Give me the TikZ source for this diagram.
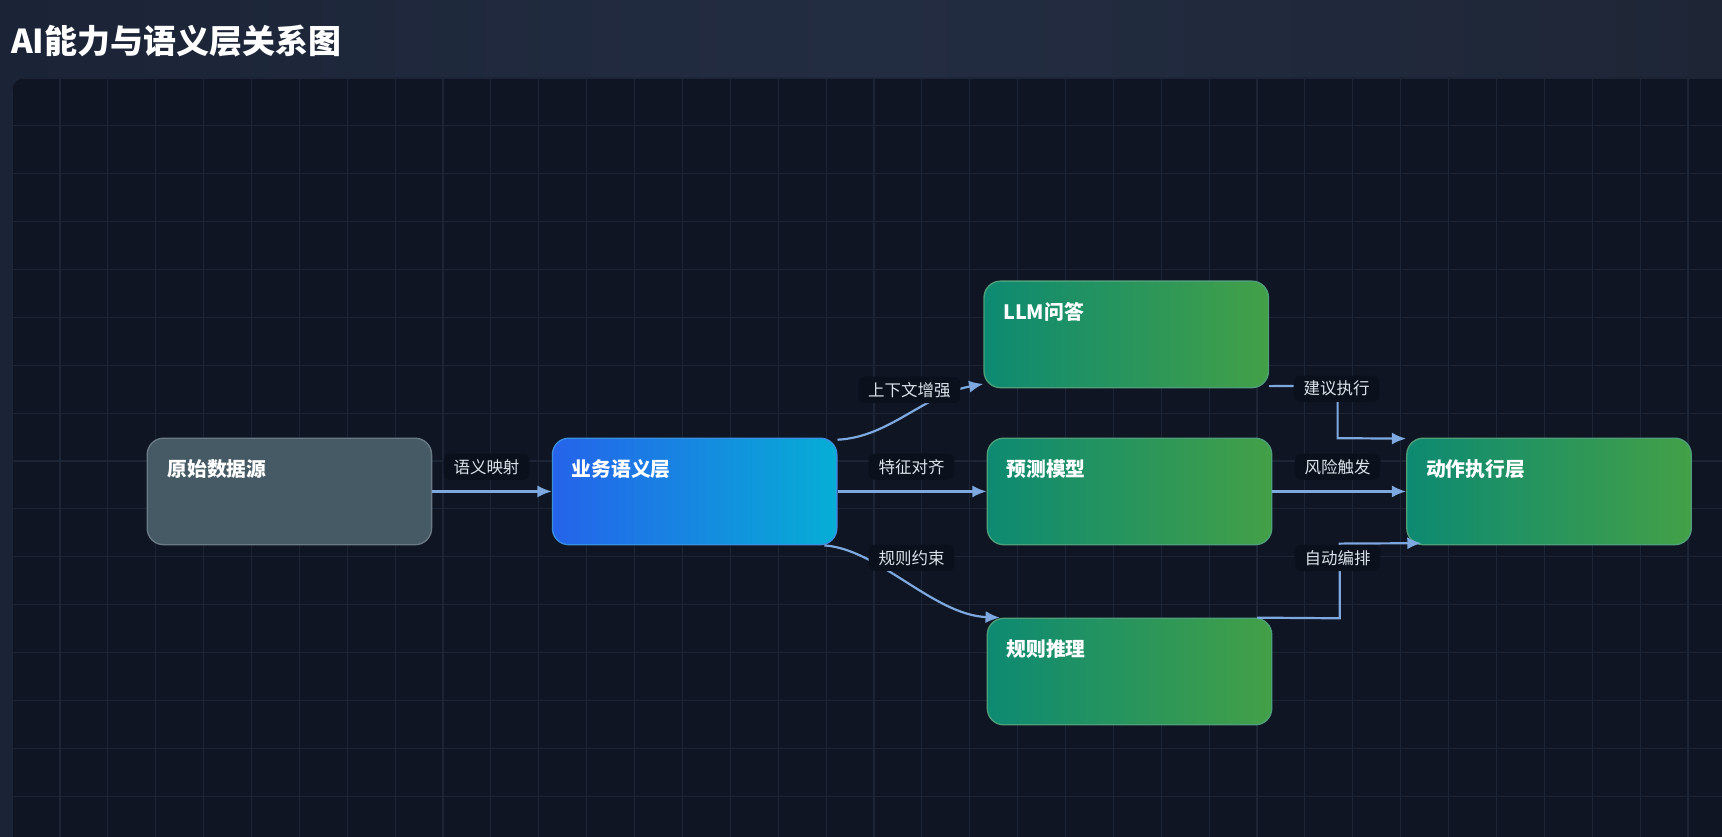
\documentclass[tikz,border=0pt]{standalone}
\usepackage{fontspec}
\setmainfont{Noto Sans CJK SC}
\usetikzlibrary{calc,arrows.meta}
\definecolor{hdrL}{HTML}{1B2436}
\definecolor{hdrR}{HTML}{1E2636}
\definecolor{hdrM}{HTML}{232D42}
\definecolor{bg}{HTML}{0F1523}
\definecolor{gridc}{HTML}{1C2536}
\definecolor{edge}{HTML}{7DA9E0}
\definecolor{lbl}{HTML}{0A101C}
\definecolor{lbltxt}{HTML}{DDE3EA}
\definecolor{grayF}{HTML}{455A64}
\definecolor{grayD}{HTML}{6B7B85}
\definecolor{blueL}{HTML}{2563EB}
\definecolor{blueR}{HTML}{06AED5}
\definecolor{blueD}{HTML}{3B8FE0}
\definecolor{greenL}{HTML}{0D8A72}
\definecolor{greenR}{HTML}{43A047}
\definecolor{greenD}{HTML}{4FA07A}
\tikzset{
 box/.style={rounded corners=15pt, minimum width=259pt, minimum height=97pt, line width=1.2pt},
 graybox/.style={box, fill=grayF, draw=grayD},
 bluebox/.style={box, left color=blueL, right color=blueR, draw=blueD},
 greenbox/.style={box, left color=greenL, right color=greenR, draw=greenD},
 ttl/.style={anchor=north west, text=white, inner sep=0pt, font=\fontsize{18}{21}\selectfont\bfseries},
 lab/.style={fill=lbl, rounded corners=6pt, text=lbltxt, font=\fontsize{15}{18}\selectfont, inner xsep=9pt, inner ysep=5pt},
 con/.style={draw=edge, line width=2pt, -{Latex[length=13pt,width=11pt]}},
}
\begin{document}
\begin{tikzpicture}[x=1pt,y=-1pt]
\useasboundingbox (0,0) rectangle (1568,762);
\shade[left color=hdrL, right color=hdrR, middle color=hdrM] (0,0) rectangle (1568,762);
\fill[bg, rounded corners=12pt] (11,71) rectangle (1600,800);
\begin{scope}
\clip[rounded corners=12pt] (11,71) rectangle (1600,800);
\foreach \i in {0,...,36} \draw[gridc, line width=1pt] ({11+43.6*\i},71) -- ({11+43.6*\i},800);
\foreach \j in {0,...,16} \draw[gridc, line width=1pt] (11,{71+43.6*\j}) -- (1600,{71+43.6*\j});
\end{scope}
\node[anchor=west, text=white, inner sep=0pt, font=\fontsize{30}{34}\selectfont\bfseries] (title) at (10,37) {AI能力与语义层关系图};

\node[graybox] (src) at (263.5,447.5) {};
\node[bluebox] (sem) at (632.5,447.5) {};
\node[greenbox] (llm) at (1025.5,304.5) {};
\node[greenbox] (pred) at (1028.5,447.5) {};
\node[greenbox] (rule) at (1028.5,611.5) {};
\node[greenbox] (act) at (1410.5,447.5) {};

\node[ttl] (src-t) at ($(src.north west)+(19,20)$) {原始数据源};
\node[ttl] (sem-t) at ($(sem.north west)+(18,20)$) {业务语义层};
\node[ttl] (llm-t) at ($(llm.north west)+(18,20)$) {LLM问答};
\node[ttl] (pred-t) at ($(pred.north west)+(18,20)$) {预测模型};
\node[ttl] (rule-t) at ($(rule.north west)+(18,20)$) {规则推理};
\node[ttl] (act-t) at ($(act.north west)+(18,20)$) {动作执行层};

\draw[con] (src.east) -- (sem.west);
\draw[con] (sem.east) -- (pred.west);
\draw[con] (pred.east) -- (act.west);
\draw[con] ($(sem.north east)+(0,2)$) .. controls (810,398) and (840,360) .. ($(llm.south west)+(0,-4)$);
\draw[con] ($(sem.south east)+(-12,0)$) .. controls (800,500) and (850,560) .. ($(rule.north west)+(12,0)$);
\draw[con] ($(llm.south east)+(0,-2)$) -- (1218,351) -- (1218,399) -- ($(act.north west)+(0,1)$);
\draw[con] ($(rule.north east)+(-14,0)$) -- (1220,563) -- (1220,495) -- ($(act.south west)+(14,-2)$);

\node[lab] (l1) at (443,425) {语义映射};
\node[lab] (l2) at (828,355) {上下文增强};
\node[lab] (l3) at (830,425) {特征对齐};
\node[lab] (l4) at (830,508) {规则约束};
\node[lab] (l5) at (1217,354) {建议执行};
\node[lab] (l6) at (1218,425) {风险触发};
\node[lab] (l7) at (1218,508) {自动编排};
\end{tikzpicture}
\end{document}
